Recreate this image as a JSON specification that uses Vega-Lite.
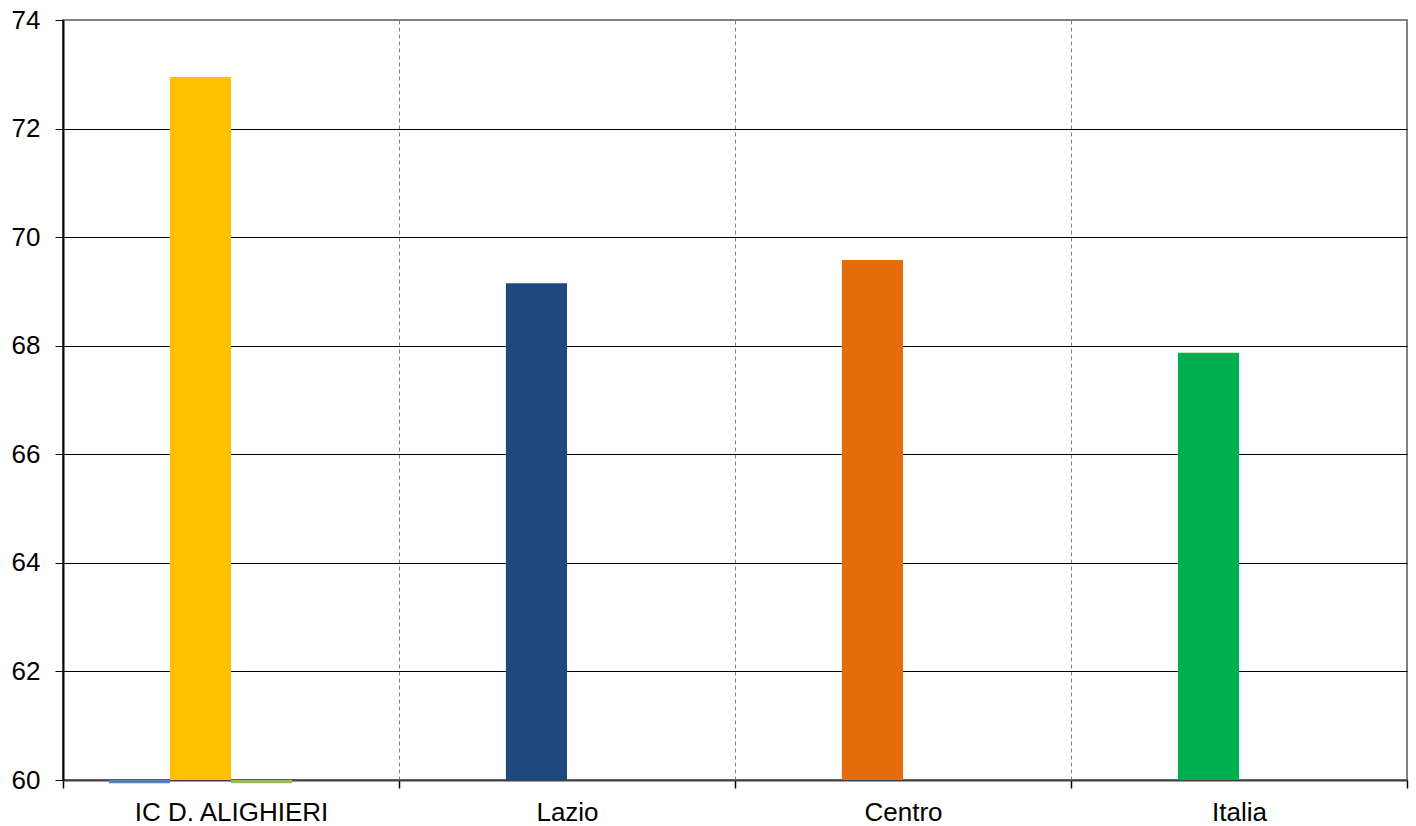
{
  "$schema": "https://vega.github.io/schema/vega-lite/v6.json",
  "autosize": "none",
  "width": 1344,
  "height": 760,
  "padding": {"left": 63, "top": 20, "right": 9, "bottom": 46},
  "background": "white",
  "config": {
    "view": {"stroke": "#808080", "strokeWidth": 2},
    "font": "Liberation Sans"
  },
  "data": {
    "values": [
      {"categoria": "IC D. ALIGHIERI", "serie": "s1", "chiave": "IC-1", "valore": 59.94},
      {"categoria": "IC D. ALIGHIERI", "serie": "s2", "chiave": "IC-2", "valore": 72.95},
      {"categoria": "IC D. ALIGHIERI", "serie": "s3", "chiave": "IC-3", "valore": 59.94},
      {"categoria": "Lazio", "serie": "s2", "chiave": "Lazio", "valore": 69.15},
      {"categoria": "Centro", "serie": "s2", "chiave": "Centro", "valore": 69.58},
      {"categoria": "Italia", "serie": "s2", "chiave": "Italia", "valore": 67.87}
    ]
  },
  "mark": {"type": "bar", "clip": false},
  "encoding": {
    "x": {
      "field": "categoria",
      "type": "nominal",
      "sort": ["IC D. ALIGHIERI", "Lazio", "Centro", "Italia"],
      "scale": {"paddingInner": 0, "paddingOuter": 0},
      "axis": {
        "title": null,
        "labelAngle": 0,
        "labelFontSize": 26,
        "labelColor": "black",
        "labelPadding": 11,
        "labelLimit": 0,
        "tickBand": "extent",
        "tickSize": 8,
        "tickColor": "black",
        "tickWidth": 1.5,
        "domainColor": "#404040",
        "domainWidth": 2,
        "grid": true,
        "gridColor": "#808080",
        "gridDash": [4, 3],
        "gridWidth": 1
      }
    },
    "xOffset": {
      "field": "serie",
      "type": "nominal",
      "scale": {"domain": ["s1", "s2", "s3", "s4"], "paddingInner": 0, "paddingOuter": 0.75}
    },
    "y": {
      "field": "valore",
      "type": "quantitative",
      "scale": {"domain": [60, 74], "nice": false, "zero": false},
      "axis": {
        "title": null,
        "values": [60, 62, 64, 66, 68, 70, 72, 74],
        "labelFontSize": 26,
        "labelColor": "black",
        "labelPadding": 15,
        "tickSize": 8,
        "tickColor": "black",
        "domainColor": "black",
        "domainWidth": 2,
        "grid": true,
        "gridColor": {"condition": {"test": "datum.value == 74", "value": "#808080"}, "value": "black"},
        "gridWidth": 1
      }
    },
    "y2": {"datum": 60},
    "color": {
      "field": "chiave",
      "type": "nominal",
      "scale": {
        "domain": ["IC-1", "IC-2", "IC-3", "Lazio", "Centro", "Italia"],
        "range": ["#4F81BD", "#FFC000", "#9BBB59", "#1F497D", "#E46C0A", "#00B050"]
      },
      "legend": null
    }
  }
}
